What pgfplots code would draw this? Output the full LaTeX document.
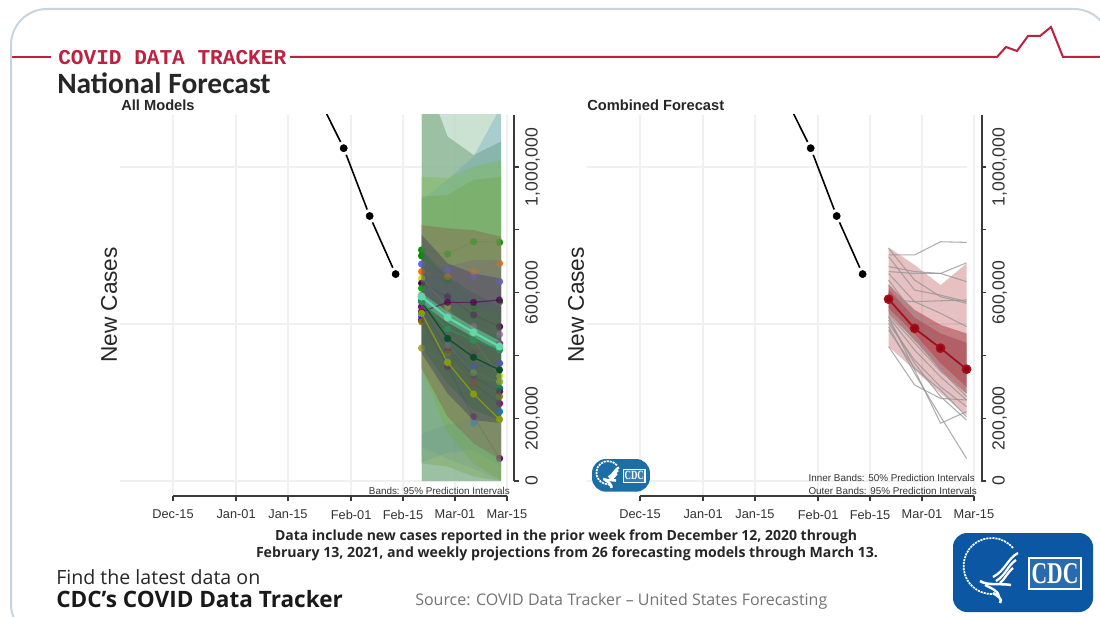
\documentclass[border=0pt]{standalone}
\usepackage{fontspec}
\usepackage{graphicx}
\usepackage{pgfplots}
\usepackage{pgfplotstable}
\pgfplotsset{compat=1.18}
\setmainfont{Liberation Sans}
\newfontfamily\mono{Liberation Mono}
\newfontfamily\carlito{Carlito}
\newfontfamily\opensans{Open Sans}
\newfontfamily\lserif{Liberation Serif}

\definecolor{cdcred}{HTML}{BE2040}
\definecolor{framegray}{HTML}{3A3A3A}
\definecolor{gridgray}{HTML}{F0F0F0}
\definecolor{border}{HTML}{C8D5DE}
\definecolor{cdcblue}{HTML}{0B57A4}
\definecolor{cdcteal}{HTML}{1C6EA6}
\definecolor{mint}{RGB}{95,217,168}
\definecolor{midgreen}{RGB}{46,139,87}
\definecolor{darkgreen}{RGB}{13,77,42}
\definecolor{oliveline}{RGB}{135,155,15}

% observed and previous weeks, days counted from Dec-15
\pgfplotstableread{
x y
39 1226000
46 1060000
53 844000
60 659000
}\observed

\pgfplotsset{
  panel/.style={
    scale only axis, width=295.5pt, height=285.75pt,
    xmin=-14.286, xmax=91.9, ymin=-47775, ymax=1165710,
    clip marker paths=true,
    scaled y ticks=false,
    axis line style={draw=none},
    xtick={0,17,31,48,62,76,90},
    xticklabels={Dec-15,Jan-01,Jan-15,Feb-01,Feb-15,Mar-01,Mar-15},
    xtick pos=bottom,
    ytick={0,200000,600000,1000000},
    yticklabels={0,{200,000},{600,000},{1,000,000}},
    minor ytick={400000,800000},
    ytick pos=right, yticklabel pos=right,
    tick align=outside,
    major tick length=4pt, minor tick length=4pt,
    every tick/.style={framegray,line width=1pt},
    minor tick style={framegray,line width=1pt},
    xmajorgrids, major x grid style={gridgray,line width=1pt},
    xticklabel style={font=\fontsize{9.6}{10}\selectfont,text=black!80,yshift=-3pt},
    yticklabel style={rotate=90,anchor=north,font=\fontsize{13.2}{14}\selectfont,text=black!80,yshift=-1pt},
  },
  hgrid/.style={gridgray,line width=1pt,forget plot},
  % colour, line opacity, mark opacity
  mline/.style n args={3}{#1,draw opacity=#2,line width=.9pt,mark=*,mark size=2.7pt,
     mark options={draw=#1,draw opacity=0,fill=#1,fill opacity=#3},forget plot},
  gline/.style={draw=gray!85,draw opacity=.75,line width=.8pt,mark=none,forget plot},
}

\newcommand{\obsplots}{%
  \addplot[hgrid] coordinates {(-14.286,0) (88,0)};
  \addplot[hgrid] coordinates {(-14.286,500000) (88,500000)};
  \addplot[hgrid] coordinates {(-14.286,1000000) (88,1000000)};
  \addplot[black,line width=1.2pt,mark=none,forget plot] table[x=x,y=y] {\observed};
  \addplot[only marks,mark=*,mark size=5pt,mark options={draw=white,fill=white},forget plot] table[x=x,y=y] {\observed};
  \addplot[only marks,mark=*,mark size=2.7pt,mark options={draw=black,fill=black},forget plot] table[x=x,y=y] {\observed};
}

% the individual forecasting models, #1 = line opacity, #2 = mark opacity
\newcommand{\modelplots}[2]{%
\addplot[mline={green!60!black}{#1}{#2}] coordinates {(67,736000)(74,723000)(81,762000)(88,760000)};
\addplot[mline={green!55!black}{#1}{#2}] coordinates {(67,717000)(74,640000)(81,555000)(88,571000)};
\addplot[mline={blue!60!white}{#1}{#2}] coordinates {(67,691000)(74,672000)(81,651000)(88,635000)};
\addplot[mline={orange!90!red}{#1}{#2}] coordinates {(67,667000)(74,651000)(81,667000)(88,693000)};
\addplot[mline={yellow!80!green}{#1}{#2}] coordinates {(67,645500)(74,555000)(81,449000)(88,334000)};
\addplot[mline={violet!60!black}{#1}{#2}] coordinates {(67,630000)(74,587000)(81,529000)(88,491500)};
\addplot[mline={green!70!black}{#1}{#2}] coordinates {(67,614000)(74,523000)(81,407000)(88,295000)};
\addplot[mline={violet!50!white}{#1}{#2}] coordinates {(67,592000)(74,534000)(81,492000)(88,467000)};
\addplot[mline={magenta!70!blue}{#1}{#2}] coordinates {(67,555000)(74,481000)(81,407000)(88,438000)};
\addplot[mline={blue!70!white}{#1}{#2}] coordinates {(67,523000)(74,438000)(81,364000)(88,375000)};
\addplot[mline={olive!70!white}{#1}{#2}] coordinates {(67,423000)(74,375000)(81,332000)(88,316000)};
\addplot[mline={teal}{#1}{#2}] coordinates {(67,576000)(74,450000)(81,338000)(88,295000)};
\addplot[mline={violet!80!black}{#1}{#2}] coordinates {(67,539000)(74,428000)(81,332000)(88,285000)};
\addplot[mline={violet}{#1}{#2}] coordinates {(67,555000)(74,417000)(81,311000)(88,247000)};
\addplot[mline={blue!50!cyan}{#1}{#2}] coordinates {(67,534000)(74,385000)(81,184000)(88,221000)};
\addplot[mline={violet!80!black}{#1}{#2}] coordinates {(67,513000)(74,364000)(81,205000)(88,72000)};
\addplot[mline={olive}{#1}{#2}] coordinates {(67,507500)(74,407000)(81,311000)(88,269000)};
\addplot[mline={yellow!50!green}{#1}{#2}] coordinates {(67,540000)(74,430000)(81,345000)(88,316000)};
}

% CDC logo drawn in a 140 x 79 box
\newcommand{\cdclogo}[3]{%
\begin{scope}[shift={(#1)},scale=#3,transform shape]
  \fill[#2,rounded corners=10.5pt] (0,0) rectangle (140,79);
  \draw[white,line width=1.3pt,dash pattern=on 1.6pt off .7pt] (60,15) arc[start angle=-40,end angle=-285,radius=28];
  \draw[white,line width=1.7pt] (65,20) .. controls (55,25) and (52,38) .. (40,44);
  \draw[white,line width=1.7pt] (63,27) .. controls (55,32) and (53,42) .. (43,48);
  \draw[white,line width=1.7pt] (60,35) .. controls (54,40) and (52,46) .. (47,50);
  \draw[white,line width=1.9pt] (27,48) .. controls (35,53) and (45,50) .. (58,52);
  \draw[white,line width=1.7pt] (32,52) .. controls (40,56) and (45,58) .. (46,63);
  \draw[white,line width=1.9pt] (40,60) .. controls (45,63) and (50,66) .. (47,70);
  \draw[white,line width=1pt,fill=white,fill opacity=.12] (76,25) rectangle (128,56);
  \node[white,inner sep=0pt] at (102,40.5) {\resizebox{35pt}{15pt}{\lserif\bfseries CDC}};
\end{scope}}

\begin{document}
\begin{tikzpicture}[x=0.75pt,y=-0.75pt]
\useasboundingbox (0,0) rectangle (1100,617);
\fill[white] (0,0) rectangle (1100,617);
\begin{scope}
  \clip (0,0) rectangle (1100,617);
  \draw[border,line width=1.5pt,rounded corners=27pt] (11,9) rectangle (1110,640);
\end{scope}

% header
\draw[cdcred,line width=1.5pt] (12,57) -- (51,57);
\draw[cdcred,line width=1.5pt] (290,57) -- (997,57) -- (1006,47) -- (1017,51) -- (1028,36) -- (1040,36) -- (1051,27) -- (1063,57) -- (1100,57);
\node[anchor=west,inner sep=0pt,text=cdcred] at (58,57.5) {\resizebox{171pt}{!}{\mono\bfseries COVID DATA TRACKER}};
\node[anchor=west,inner sep=0pt,text=black!85] at (57,83) {\resizebox{160pt}{!}{\carlito\bfseries National Forecast}};
\node[anchor=west,inner sep=0pt,text=black!85] at (121,105.5) {\fontsize{11}{12}\selectfont\bfseries All Models};
\node[anchor=west,inner sep=0pt,text=black!85] at (587,105.5) {\fontsize{11}{12}\selectfont\bfseries Combined Forecast};

% left panel
\begin{axis}[panel,at={(90pt,-372pt)},anchor=south west]
\obsplots
\modelplots{1}{1}
% 95% bands
\addplot[draw=none,fill={rgb,255:red,195;green,220;blue,202},fill opacity=.85,mark=none,forget plot] coordinates {(67,1320000)(88.4,1320000)(88.4,0)(67,0)} --cycle;
\addplot[draw=none,fill={rgb,255:red,110;green,160;blue,118},fill opacity=.5,mark=none,forget plot] coordinates {(67,1320000)(74,1097000)(81,1038000)(88.4,1081000)(88.4,0)(81,0)(74,0)(67,0)} --cycle;
\addplot[draw=none,fill={rgb,255:red,90;green,160;blue,195},fill opacity=.3,mark=none,forget plot] coordinates {(67,895000)(74,959000)(81,1033000)(88.4,1192000)(88.4,46000)(81,100000)(74,90000)(67,60000)} --cycle;
\addplot[draw=none,fill={rgb,255:red,125;green,185;blue,75},fill opacity=.4,mark=none,forget plot] coordinates {(67,969000)(74,964000)(81,1001000)(88.4,1022000)(88.4,3000)(81,56000)(74,152000)(67,359000)} --cycle;
\addplot[draw=none,fill={rgb,255:red,110;green,160;blue,60},fill opacity=.3,mark=none,forget plot] coordinates {(67,906000)(74,911000)(81,959000)(88.4,969000)(88.4,0)(81,14000)(74,46000)(67,56000)} --cycle;
\addplot[draw=none,fill={rgb,255:red,135;green,105;blue,80},fill opacity=.45,mark=none,forget plot] coordinates {(67,815000)(74,805000)(81,799000)(88.4,778000)(88.4,67000)(81,120000)(74,205000)(67,359000)} --cycle;
\addplot[draw=none,fill={rgb,255:red,60;green,60;blue,95},fill opacity=.42,mark=none,forget plot] coordinates {(67,784000)(74,693000)(81,661000)(88.4,645500)(88.4,184000)(81,194000)(74,279000)(67,407000)} --cycle;
\addplot[draw=none,fill={rgb,255:red,40;green,95;blue,65},fill opacity=.3,mark=none,forget plot] coordinates {(67,736000)(74,651000)(81,598000)(88.4,555000)(88.4,194000)(81,226000)(74,311000)(67,428000)} --cycle;
\addplot[draw=none,fill={rgb,255:red,105;green,75;blue,145},fill opacity=.22,mark=none,forget plot] coordinates {(67,683000)(74,683000)(81,704000)(88.4,704000)(88.4,534000)(81,555000)(74,555000)(67,534000)} --cycle;
\addplot[draw=none,fill={rgb,255:red,95;green,125;blue,140},fill opacity=.15,mark=none,forget plot] coordinates {(67,150000)(74,180000)(81,200000)(88.4,170000)(88.4,0)(81,40000)(74,70000)(67,110000)} --cycle;
\addplot[draw=none,fill=mint,fill opacity=.5,mark=none,forget plot] coordinates {(67,598000)(74,540000)(81,490000)(88.4,444000)(88.4,412000)(81,458000)(74,505000)(67,566000)} --cycle;
\modelplots{.08}{.3}
% strongest models
\addplot[mline={violet!65!black}{.6}{.7}] coordinates {(67,539000)(74,569000)(81,569000)(88,576500)};
\addplot[mline={oliveline}{1}{1}] coordinates {(67,534000)(74,378000)(81,277000)(88,196000)};
\addplot[mline={darkgreen}{1}{1}] coordinates {(67,571000)(74,454000)(81,394000)(88,353500)};
\addplot[mline={midgreen}{1}{1}] coordinates {(67,571000)(74,484000)(81,449000)(88,417000)};
\addplot[mline={mint}{1}{1},line width=1.6pt,mark size=3pt] coordinates {(67,587000)(74,521000)(81,473500)(88,428000)};
\end{axis}

% right panel
\begin{axis}[panel,at={(440.25pt,-372pt)},anchor=south west]
\obsplots
\addplot[draw=none,fill={rgb,255:red,176;green,48;blue,56},fill opacity=.3,mark=none,forget plot] coordinates {(67,744000)(74,688000)(81,624000)(88,693000)(88,210000)(81,279000)(74,354000)(67,428000)} --cycle;
\addplot[draw=none,fill={rgb,255:red,160;green,40;blue,48},fill opacity=.45,mark=none,forget plot] coordinates {(67,624000)(74,545000)(81,497000)(88,470000)(88,279000)(81,354000)(74,449000)(67,534000)} --cycle;
\addplot[gline] coordinates {(67,720000)(74,720000)(81,762000)(88,760000)};
\addplot[gline] coordinates {(67,683000)(74,667000)(81,661000)(88,695000)};
\addplot[gline] coordinates {(67,667000)(74,661000)(81,661000)(88,635000)};
\addplot[gline] coordinates {(67,741000)(74,640000)(81,587000)(88,566000)};
\addplot[gline] coordinates {(67,714500)(74,608000)(81,592000)(88,571000)};
\addplot[gline] coordinates {(67,579000)(74,571000)(81,574000)(88,576500)};
\addplot[gline] coordinates {(67,661000)(74,571000)(81,534000)(88,491500)};
\addplot[gline] coordinates {(67,624000)(74,534000)(81,470000)(88,428000)};
\addplot[gline] coordinates {(67,598000)(74,502000)(81,444000)(88,401000)};
\addplot[gline] coordinates {(67,576500)(74,481000)(81,423000)(88,327000)};
\addplot[gline] coordinates {(67,545000)(74,449000)(81,375000)(88,300000)};
\addplot[gline] coordinates {(67,523000)(74,417000)(81,332000)(88,258000)};
\addplot[gline] coordinates {(67,502000)(74,385000)(81,300000)(88,237000)};
\addplot[gline] coordinates {(67,481000)(74,359000)(81,290000)(88,205000)};
\addplot[gline] coordinates {(67,428000)(74,306000)(81,263000)(88,258000)};
\addplot[gline] coordinates {(67,523000)(74,354000)(81,184000)(88,221000)};
\addplot[gline] coordinates {(67,491500)(74,343000)(81,205000)(88,72000)};
\addplot[gline] coordinates {(67,513000)(74,375000)(81,269000)(88,194000)};
\addplot[gline] coordinates {(67,555000)(74,460000)(81,354000)(88,269000)};
\addplot[gline] coordinates {(67,640000)(74,530000)(81,440000)(88,360000)};
\addplot[gline] coordinates {(67,600000)(74,510000)(81,420000)(88,340000)};
\addplot[gline] coordinates {(67,530000)(74,440000)(81,350000)(88,280000)};
\addplot[draw=none,fill={rgb,255:red,150;green,30;blue,40},fill opacity=.3,mark=none,forget plot] coordinates {(67,610000)(74,520000)(81,470000)(88,440000)(88,300000)(81,375000)(74,470000)(67,550000)} --cycle;
\addplot[color={rgb,255:red,165;green,15;blue,25},line width=1.3pt,mark=*,mark size=3pt,mark options={draw=none,fill={rgb,255:red,150;green,5;blue,20}},forget plot] coordinates {(67,579000)(74,486000)(81,423000)(88,356000)};
\end{axis}

% axis frames, offset from the data as in the original
\draw[framegray,line width=1.2pt] (173,496) -- (507,496);
\draw[framegray,line width=1.2pt] (514,115) -- (514,481);
\draw[framegray,line width=1.2pt] (640,496) -- (974,496);
\draw[framegray,line width=1.2pt] (982,115) -- (982,481);

\node[rotate=90,inner sep=0pt,text=black!85] at (109,305) {\fontsize{17}{18}\selectfont New Cases};
\node[rotate=90,inner sep=0pt,text=black!85] at (576,305) {\fontsize{17}{18}\selectfont New Cases};

\node[anchor=east,inner sep=0pt,text=black!80] at (510,491) {\fontsize{7.4}{8}\selectfont Bands: 95\% Prediction Intervals};
\node[anchor=east,inner sep=0pt,text=black!80] at (975,478) {\fontsize{7.4}{8}\selectfont Inner Bands: 50\% Prediction Intervals};
\node[anchor=east,inner sep=0pt,text=black!80] at (977,491) {\fontsize{7.4}{8}\selectfont Outer Bands: 95\% Prediction Intervals};

\cdclogo{592,459}{cdcteal}{0.414}
\cdclogo{953,533}{cdcblue}{1}

% notes
\node[inner sep=0pt,text=black!85] at (566,537) {\resizebox{436.5pt}{!}{\opensans\bfseries Data include new cases reported in the prior week from December 12, 2020 through}};
\node[inner sep=0pt,text=black!85] at (567,553.5) {\resizebox{466.5pt}{!}{\opensans\bfseries February 13, 2021, and weekly projections from 26 forecasting models through March 13.}};
\node[anchor=west,inner sep=0pt,text=black!85] at (56,577) {\resizebox{153pt}{!}{\opensans Find the latest data on}};
\node[anchor=west,inner sep=0pt,text=black!90] at (56,599) {\resizebox{215pt}{!}{\opensans\bfseries CDC’s COVID Data Tracker}};
\node[anchor=west,inner sep=0pt,text=black!55] at (415,601.5) {\resizebox{309pt}{!}{\opensans Source: COVID Data Tracker – United States Forecasting}};
\end{tikzpicture}
\end{document}
